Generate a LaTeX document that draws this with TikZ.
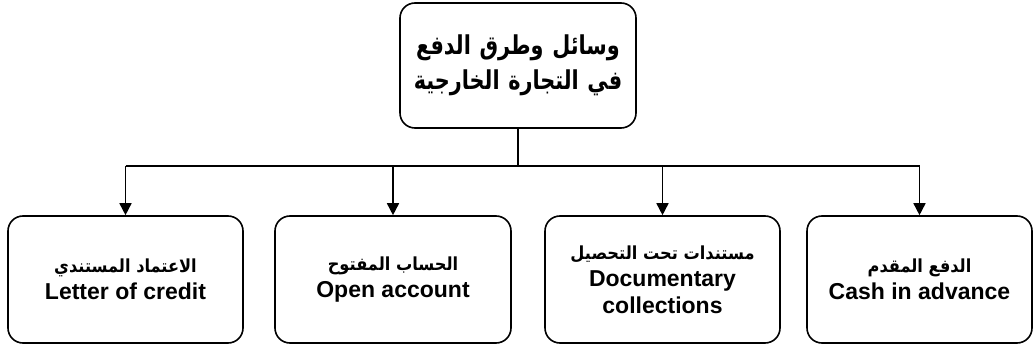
\documentclass[tikz,border=0pt]{standalone}
\usepackage{fontspec}
\setmainfont{Liberation Sans}
\newfontfamily\arabicnarrow[Script=Arabic,FakeStretch=0.8]{DejaVu Sans}
\newfontfamily\arabicsmall[Script=Arabic,FakeStretch=0.9]{DejaVu Sans}
\TeXXeTstate=1
\usetikzlibrary{arrows.meta}
\tikzset{
  box/.style={draw, line width=1.6pt, rounded corners=15pt, align=center, inner sep=0pt},
  lowbox/.style={box, minimum width=235pt, minimum height=127pt, font=\bfseries\fontsize{23}{27}\selectfont},
  conn/.style={line width=1.6pt},
  arr/.style={conn, -{Triangle[length=12pt,width=12pt]}}
}
\newcommand{\ar}[1]{{\arabicsmall\fontsize{18}{27}\selectfont\beginR #1\endR}}
\begin{document}
\begin{tikzpicture}[x=1pt,y=-1pt]
\useasboundingbox (0,0) rectangle (1034,347);
\node[box, text width=230pt, minimum width=236pt, minimum height=125pt, font=\bfseries\fontsize{26}{35}\selectfont] (top) at (518,65.5)
  {{\arabicnarrow\beginR وسائل وطرق الدفع\endR}\\{\arabicnarrow\beginR في التجارة الخارجية\endR}};
\node[lowbox] (b1) at (125.5,279.5)
  {\ar{الاعتماد المستندي}\\Letter of credit};
\node[lowbox, minimum width=236pt] (b2) at (393,279.5)
  {\ar{الحساب المفتوح}\\Open account};
\node[lowbox] (b3) at (662.5,279.5)
  {\ar{مستندات تحت التحصيل}\\Documentary\\collections};
\node[lowbox, minimum width=225pt] (b4) at (919.5,279.5)
  {\ar{الدفع المقدم}\\Cash in advance};
\coordinate (j) at (518,166);
\draw[conn] (top.south) -- (j);
\draw[conn] (b1.north |- j) -- (b4.north |- j);
\foreach \b in {b1,b2,b3,b4}
  \draw[arr] (\b.north |- j) -- (\b.north);
\end{tikzpicture}
\end{document}
